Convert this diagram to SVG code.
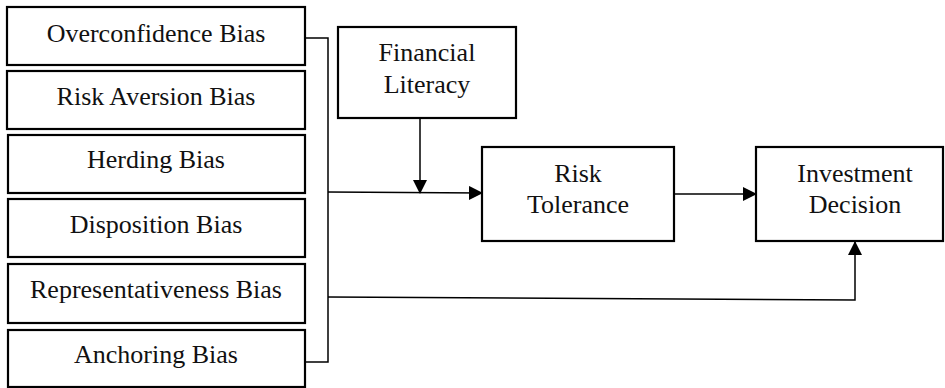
<svg xmlns="http://www.w3.org/2000/svg" width="945" height="388" viewBox="0 0 945 388">
<defs>
<style>
.box{fill:#fff;stroke:#000;stroke-width:2.2}
.t{font-family:'Liberation Serif','DejaVu Serif',serif;font-size:26px;fill:#111;text-anchor:middle}
.c{fill:none;stroke:#000;stroke-width:1.5}
</style>
<marker id="ah" markerWidth="14" markerHeight="14" refX="13" refY="7" orient="auto" markerUnits="userSpaceOnUse">
<path d="M0,0 L14,7 L0,14 Z" fill="#000"/>
</marker>
</defs>
<rect width="945" height="388" fill="#fff"/>
<g id="overconfidence"><rect class="box" x="7" y="7" width="298" height="58"/><text class="t" x="156" y="42">Overconfidence Bias</text></g>
<g id="riskaversion"><rect class="box" x="7" y="71" width="298" height="58"/><text class="t" x="156" y="105">Risk Aversion Bias</text></g>
<g id="herding"><rect class="box" x="8" y="135" width="297" height="58"/><text class="t" x="156" y="168">Herding Bias</text></g>
<g id="disposition"><rect class="box" x="8" y="199" width="297" height="58"/><text class="t" x="156" y="233">Disposition Bias</text></g>
<g id="representativeness"><rect class="box" x="8" y="264" width="297" height="59"/><text class="t" x="156" y="298">Representativeness Bias</text></g>
<g id="anchoring"><rect class="box" x="8" y="330" width="297" height="57"/><text class="t" x="156" y="363">Anchoring Bias</text></g>
<g id="financialliteracy"><rect class="box" x="338" y="27" width="178" height="91"/><text class="t" x="427" y="61">Financial</text><text class="t" x="427" y="93">Literacy</text></g>
<g id="risktolerance"><rect class="box" x="482" y="147" width="192" height="94"/><text class="t" x="578" y="182">Risk</text><text class="t" x="578" y="213">Tolerance</text></g>
<g id="investmentdecision"><rect class="box" x="756" y="147" width="187" height="94"/><text class="t" x="855" y="182">Investment</text><text class="t" x="855" y="213">Decision</text></g>
<g id="connectors">
<path class="c" d="M305,38 H328 V362 H305"/>
<path class="c" d="M328,192 L482,193" marker-end="url(#ah)"/>
<path class="c" d="M420,118 V193" marker-end="url(#ah)"/>
<path class="c" d="M674,194 H756" marker-end="url(#ah)"/>
<path class="c" d="M328,297 L855,300 V242" marker-end="url(#ah)"/>
</g>
</svg>
